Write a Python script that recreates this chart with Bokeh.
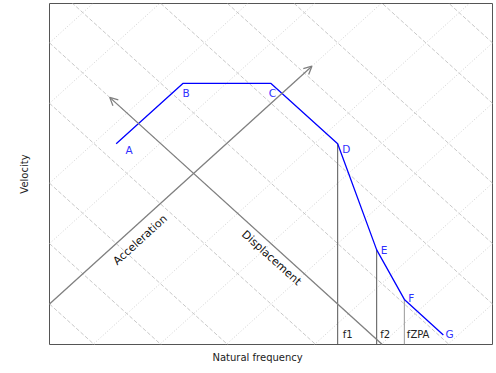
import math
from bokeh.plotting import figure
from bokeh.models import Range1d, FixedTicker, Arrow, OpenHead, Title
from bokeh.core.properties import value
from bokeh.embed import file_html
from bokeh.resources import INLINE

# ---------------- data ----------------
freq_range = [0.1, 10.0]                      # natural frequency (log axis)
vel_range = [0.1 * math.pi, 5 * math.pi]      # velocity (log axis)

curve_freq = [0.2, 0.4, 1.0, 2.0, 3.0, 4.0, 6.0]
curve_vel = [3.14, 6.28, 6.28, 3.14, 0.93, 0.527, 0.35]
curve_labels = ["A", "B", "C", "D", "E", "F", "G"]

accel_levels = [0.05, 0.1, 0.2, 0.5, 1, 2, 5, 10, 20, 50, 100]   # lines of constant v*f
disp_levels = [0.05, 0.1, 0.2, 0.5, 1, 2, 5, 10, 20, 50, 100]    # lines of constant v/f

cut_idx = [3, 4, 5]                            # D, E, F
cut_labels = ["f1", "f2", "fZPA"]

accel_arrow_f = [0.1, 1.53]
accel_arrow_v = [0.5, 7.65]
disp_arrow_f = [3.18, 0.187]
disp_arrow_v = [0.314, 5.35]

accel_text_pos = [0.257, 1.043]
disp_text_pos = [1.005, 0.848]

x_title = "Natural frequency"
y_title = "Velocity"

# ---------------- layout ----------------
W, H = 496, 373
ML, MR, MT, MB = 49, 4, 3, 29
FW, FH = W - ML - MR, H - MT - MB
px_per_dec_x = FW / math.log10(freq_range[1] / freq_range[0])
px_per_dec_y = FH / math.log10(vel_range[1] / vel_range[0])
diag = math.atan(px_per_dec_y / px_per_dec_x)

FONT = value("DejaVu Sans")

p = figure(width=W, height=H, x_axis_type="log", y_axis_type="log",
           x_range=Range1d(*freq_range), y_range=Range1d(*vel_range),
           output_backend="svg", toolbar_location=None,
           min_border_left=ML, min_border_right=MR,
           min_border_top=MT, min_border_bottom=MB)
p.background_fill_color = "white"
p.border_fill_color = "white"
p.outline_line_color = "#555555"
p.outline_line_width = 1
p.grid.visible = False

for ax in (p.xaxis[0], p.yaxis[0]):
    ax.ticker = FixedTicker(ticks=[])
    ax.major_tick_out = 0
    ax.major_tick_in = 0
    ax.minor_tick_out = 0
    ax.minor_tick_in = 0
    ax.axis_line_color = None
    ax.major_label_text_font_size = "0px"
    ax.axis_label_text_font = "DejaVu Sans"
    ax.axis_label_text_font_size = "10px"
    ax.axis_label_text_font_style = "normal"
    ax.axis_label_text_color = "#222222"
p.yaxis[0].axis_label = y_title
p.yaxis[0].axis_label_standoff = 20

# x title: a below-panel title, a little left of the frame centre
p.add_layout(Title(text=x_title, align="left", offset=163, standoff=10,
                   text_font="DejaVu Sans", text_font_size="10px",
                   text_font_style="normal", text_color="#222222"), "below")

# diagonal grid
f0, f1 = freq_range
p.multi_line(xs=[[f0, f1] for _ in accel_levels],
             ys=[[k / f0, k / f1] for k in accel_levels],
             line_color="#c8c8c8", line_width=1, line_dash="4 2")
p.multi_line(xs=[[f0, f1] for _ in disp_levels],
             ys=[[m * f0, m * f1] for m in disp_levels],
             line_color="#d0d0d0", line_width=1, line_dash="1 2")

# arrows
for fs, vs in ((accel_arrow_f, accel_arrow_v), (disp_arrow_f, disp_arrow_v)):
    p.add_layout(Arrow(end=OpenHead(size=8, line_color="#808080", line_width=1.3),
                       x_start=fs[0], y_start=vs[0], x_end=fs[1], y_end=vs[1],
                       line_color="#808080", line_width=1.3))

p.text(x=[accel_text_pos[0]], y=[accel_text_pos[1]], text=["Acceleration"],
       angle=diag, text_align="center", text_baseline="middle",
       text_font=FONT, text_font_size=value("11px"), text_color="#111111")
p.text(x=[disp_text_pos[0]], y=[disp_text_pos[1]], text=["Displacement"],
       angle=-diag, text_align="center", text_baseline="middle",
       text_font=FONT, text_font_size=value("11px"), text_color="#111111")

# vertical cut-off lines
cut_f = [curve_freq[i] for i in cut_idx]
cut_v = [curve_vel[i] for i in cut_idx]
p.segment(x0=cut_f[:2], y0=[vel_range[0]] * 2, x1=cut_f[:2], y1=cut_v[:2],
          line_color="#555555", line_width=1)
p.segment(x0=cut_f[2:], y0=[vel_range[0]], x1=cut_f[2:], y1=cut_v[2:],
          line_color="#999999", line_width=1)
p.text(x=cut_f, y=[vel_range[0]] * 3, text=cut_labels,
       x_offset=[5, 3.5, 2.5], y_offset=[-10, -10, -10],
       text_align="left", text_baseline="middle",
       text_font=FONT, text_font_size=value("10px"), text_color="#222222")

# response curve
p.line(curve_freq, curve_vel, line_color="#0000ff", line_width=1.3)
p.text(x=curve_freq, y=curve_vel, text=curve_labels,
       x_offset=[12.8, 3.3, 1.5, 8.7, 7.3, 7, 6.3],
       y_offset=[5.7, 9.5, 9.5, 5, 0, -1.3, -1],
       text_align="center", text_baseline="middle",
       text_font=FONT, text_font_size=value("10.5px"), text_color="#3030ff")

open("out.html", "w").write(file_html(p, INLINE))
